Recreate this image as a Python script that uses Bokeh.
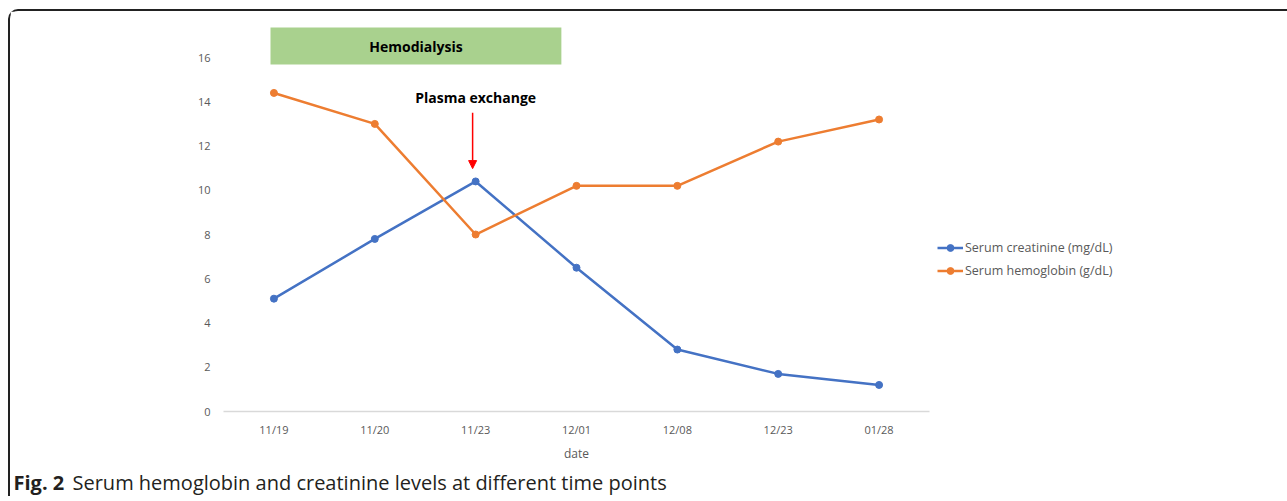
from bokeh.plotting import figure
from bokeh.layouts import column
from bokeh.models import (Range1d, FixedTicker, Legend, LegendItem, Label, Arrow,
                          NormalHead)
from bokeh.embed import file_html
from bokeh.resources import INLINE

# ---- data ----
dates = ["11/19", "11/20", "11/23", "12/01", "12/08", "12/23", "01/28"]
creatinine = [5.1, 7.8, 10.4, 6.5, 2.8, 1.7, 1.2]
hemoglobin = [14.4, 13.0, 8.0, 10.2, 10.2, 12.2, 13.2]
y_ticks = [0, 2, 4, 6, 8, 10, 12, 14, 16]
series_names = ["Serum creatinine (mg/dL)", "Serum hemoglobin (g/dL)"]
x_title = "date"
caption_bold = "Fig. 2"
caption_text = "Serum hemoglobin and creatinine levels at different time points"
hd_label = "Hemodialysis"
pe_label = "Plasma exchange"

BLUE = "#4472C4"
ORANGE = "#ED7D31"
GREEN = "#A9D18E"
TICK_COLOR = "#595959"
FONT = "Open Sans"
INNER_W = 1269

xs = [i + 0.5 for i in range(len(dates))]

p = figure(frame_width=706, frame_height=394, output_backend="svg", toolbar_location=None,
           x_range=Range1d(0, len(dates)), y_range=Range1d(0, 17.81),
           min_border_left=213, min_border_right=INNER_W - 213 - 706, min_border_top=6,
           min_border_bottom=51)
p.outline_line_color = None
p.xgrid.visible = False
p.ygrid.visible = False
p.background_fill_color = "white"
p.border_fill_color = "white"

# axes
p.xaxis.ticker = FixedTicker(ticks=xs)
p.xaxis.major_label_overrides = {x: d for x, d in zip(xs, dates)}
p.xaxis.axis_line_color = "#D9D9D9"
p.xaxis.axis_line_width = 1.5
p.xaxis.major_tick_line_color = None
p.xaxis.minor_tick_line_color = None
p.xaxis.major_tick_out = 0
p.xaxis.minor_tick_out = 0
p.xaxis.major_label_standoff = 10
p.xaxis.major_label_text_font = FONT
p.xaxis.major_label_text_font_size = "11px"
p.xaxis.major_label_text_color = TICK_COLOR
p.xaxis.axis_label = x_title
p.xaxis.axis_label_text_font = FONT
p.xaxis.axis_label_text_font_size = "12px"
p.xaxis.axis_label_text_font_style = "normal"
p.xaxis.axis_label_text_color = TICK_COLOR
p.xaxis.axis_label_standoff = 5

p.yaxis.ticker = FixedTicker(ticks=y_ticks)
p.yaxis.axis_line_color = None
p.yaxis.major_tick_line_color = None
p.yaxis.minor_tick_line_color = None
p.yaxis.major_tick_out = 0
p.yaxis.minor_tick_out = 0
p.yaxis.major_label_standoff = 13
p.yaxis.major_label_text_font = FONT
p.yaxis.major_label_text_font_size = "11px"
p.yaxis.major_label_text_color = TICK_COLOR

# hemodialysis box
p.quad(left=0.466, right=3.35, bottom=15.68, top=17.36, fill_color=GREEN, line_color=None)
p.add_layout(Label(x=(0.466 + 3.35) / 2, y=16.50, text=hd_label, text_align="center",
                   text_baseline="middle", text_font=FONT, text_font_style="bold",
                   text_font_size="14px", text_color="black"))

# plasma exchange
p.add_layout(Label(x=2.5, y=14.2, text=pe_label, text_align="center",
                   text_baseline="middle", text_font=FONT, text_font_style="bold",
                   text_font_size="14px", text_color="black"))
p.add_layout(Arrow(x_start=2.47, y_start=13.5, x_end=2.47, y_end=10.98,
                   line_color="red", line_width=1.5,
                   end=NormalHead(size=8, fill_color="red", line_color="red")))

# series
r1l = p.line(xs, creatinine, line_color=BLUE, line_width=2.5)
r1c = p.scatter(xs, creatinine, size=7, fill_color=BLUE, line_color=BLUE)
r2l = p.line(xs, hemoglobin, line_color=ORANGE, line_width=2.5)
r2c = p.scatter(xs, hemoglobin, size=7, fill_color=ORANGE, line_color=ORANGE)

legend = Legend(items=[LegendItem(label=series_names[0], renderers=[r1l, r1c]),
                       LegendItem(label=series_names[1], renderers=[r2l, r2c])],
                location=(8, 132), margin=0, padding=0, spacing=6,
                glyph_width=26, glyph_height=17, label_standoff=2,
                label_text_font=FONT, label_text_font_size="12.5px",
                label_text_color=TICK_COLOR, border_line_color=None,
                background_fill_alpha=0)
p.add_layout(legend, "right")

# caption strip (its own small figure so the text sits inside a frame)
CAP_H = 32
cap = figure(width=INNER_W, height=CAP_H, output_backend="svg", toolbar_location=None,
             x_range=Range1d(0, INNER_W), y_range=Range1d(0, CAP_H),
             x_axis_location=None, y_axis_location=None, min_border=0)
cap.outline_line_color = None
cap.grid.visible = False
cap.border_fill_color = "white"
cap.add_layout(Label(x=3, y=14, text=caption_bold,
                     text_font=FONT, text_font_style="bold", text_font_size="20px",
                     text_color="#231F20", text_baseline="middle"))
cap.add_layout(Label(x=62, y=14, text=caption_text,
                     text_font=FONT, text_font_size="20px",
                     text_color="#231F20", text_baseline="middle"))

# do not align the caption frame with the chart frame
for fig in (p, cap):
    if "frame_align" in fig.properties():
        fig.frame_align = False

inner = column(p, cap, spacing=0,
               styles={"border-left": "2px solid #222222",
                       "border-top": "2px solid #222222",
                       "border-top-left-radius": "10px"})
inner.margin = (9, 0, 0, 8)
root = column(inner, spacing=0)

open("out.html", "w").write(file_html(root, INLINE))
